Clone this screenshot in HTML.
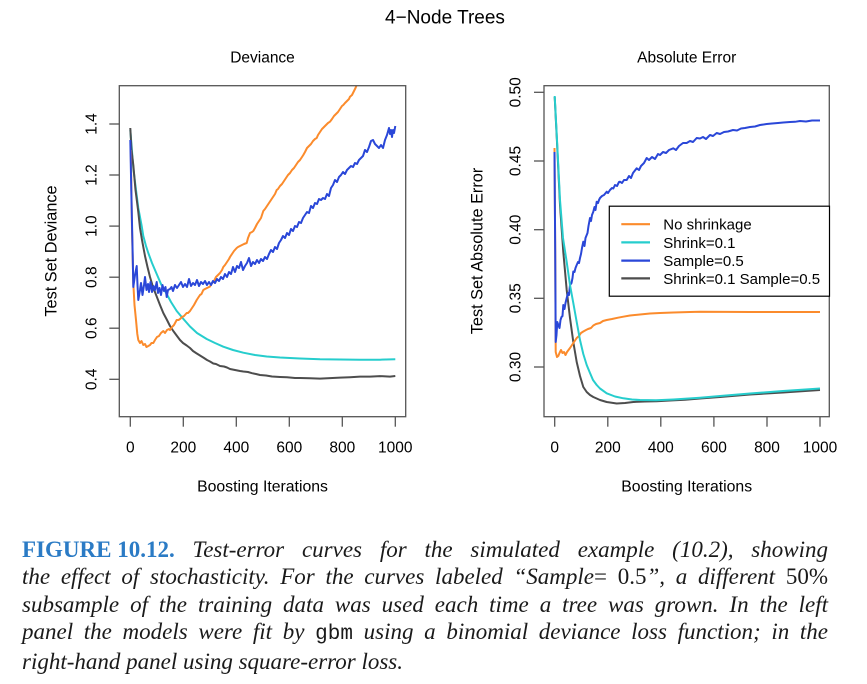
<!DOCTYPE html>
<html>
<head>
<meta charset="utf-8">
<style>
html,body{margin:0;padding:0;background:#fff;}
body{width:867px;height:684px;position:relative;overflow:hidden;}
svg{position:absolute;left:0;top:0;}
.cap{position:absolute;left:22px;top:536px;width:806px;font-family:"Liberation Serif",serif;font-style:italic;font-size:23px;line-height:27.3px;color:#1a1a1a;}
.cap div{text-align:justify;text-align-last:justify;white-space:normal;}
.cap div.last{text-align:left;text-align-last:left;}
.fig{font-style:normal;font-weight:bold;color:#2b7bc5;display:inline-block;}
.up{font-style:normal;}
.mono{font-family:"Liberation Mono",monospace;font-style:normal;font-size:21px;}
</style>
</head>
<body>
<svg width="867" height="684" viewBox="0 0 867 684" xmlns="http://www.w3.org/2000/svg" font-family="Liberation Sans, Arial, sans-serif">
<defs>
<clipPath id="cl"><rect x="119.3" y="85.7" width="286.4" height="331"/></clipPath>
<clipPath id="cr"><rect x="544" y="85.7" width="285.3" height="331"/></clipPath>
</defs>
<text x="445" y="23.5" font-size="19" text-anchor="middle" fill="#000">4−Node Trees</text>

<!-- LEFT PANEL -->
<text x="262.5" y="62.3" font-size="15.5" text-anchor="middle">Deviance</text>
<g clip-path="url(#cl)" fill="none" stroke-width="2" stroke-linejoin="round">
<polyline stroke="#26cdcd" points="130.3,130 131.5,145 133.3,168 136,190 138.3,208 141.7,226 143.3,236 146,246 148.3,253 152,263 156.7,274 161,284 166.7,294 171,302 176.7,311 183,318.5 190,326.5 197,333 206.7,339 215,343 223.3,346.7 233,350 243.3,352.7 255,355 266.7,356.5 280,357.5 300,358.5 320,359.3 340,359.5 360,359.8 380,359.7 395.3,359.3"/>
<polyline stroke="#4d4d4d" points="130.3,128 131.5,150 133.3,165 135.5,190 138.3,212 140,228 142,240 145,256 147.5,267 150,277 153,287 156.7,296.5 160,305 163.3,313 167,320 170,326 173.3,331 177,336 180,340 183,343 186.7,345.5 190,348 193,351 196,353 200,355.5 204,358 207,360 210,361.5 213.3,363.5 216,364 220,366 224,366.5 227,367.5 230,369 235,370 240,371 243.3,371.5 248,372 252,373.2 256,374 260,375 266,375.5 272,376.5 280,377 287,377.3 295,378 300,378 310,378.3 320,378.6 330,378.1 340,377.6 350,377.2 360,376.6 370,376.6 380,376.1 390,376.6 395.3,376"/>
<polyline stroke="#fb8b2c" points="130.8,150 132,230 133.3,283 134.5,305 136,320 137.3,334 138.3,340 140,343 141.5,341 143.3,345 145,344 146.5,347 148.3,346 150,345 151.5,343 153.3,343 155,340 157,337 159,336 161,333 163.3,331 165,333 167,330 169,329 170,330 172,327 174,325 176.7,320 178.5,320 180,319 182,317 184,316 186.7,313 188,313 190,311 192,308 194,305 196.7,300 198,298 200,295 201.5,294 203.3,290 205,289 207,288 210,286.5 212,283 214,281 216,277 218,275 220,273 222,270 223.3,267 225,265 227,262 229,259 230,257 232,254 234,251 236.7,248 238,247 240,246 242,245 244,244 246.7,243 248,238 250,233 252,232 253.3,231 255,228 257,224 259,221 261,218 263.3,211 265,209 267,206 269,203 271,200 273,197 275,194 276.7,190 278,189 280,186 282,184 284,181 286,178 288,175 290,173 292,170 294,168 296,165 298,162 300,160 302,157 303.3,155 305,152 307,148 309,146 311,144 313,141 315,139 316.7,138 318,135 320,132 322,129 324,127 326,125 328,123 330,121.7 332,119 334,116 336,114 338,112 340,109 342,106 343.3,105 345,103 347,101 349,99 350,96.7 352,95 354,91 355.5,88 356.7,85 358,80"/>
<polyline stroke="#2a47d8" points="130.3,140 131.5,200 132.8,260 133.3,287 135,275 136.7,266 137.5,285 138.3,300 140,290 141,283 142.5,295 144,285 145,277 146.5,290 148,284 149,292 150.5,282 152,292 153.5,286 155,290 156.7,282 158,293 159.5,288 161,295 162.5,285 164,291 165.5,287 166.7,297 168,290 170,289 171.5,287 173,291 175,285 177,288 179,285 181,282 183,287 185,284 187,287 189,279 191,286 193,283 195,285 197,280 199,286 201,282 203,284 205,281 207,285 209,282 211,285 213,281 215,283 217,279 219,281 221,277 223,279 225,274 227,277 229,272 231,274 233,267 235,272 237,266 239,268 241,262 243,270 245,266 247,263 249,258 251,266 253,262 255,264 257,260 259,263 261,259 263,261 265,257 267,259 269,254 271,250 273,252 275,247 277,249 279,243 281,240 283,236 285,238 287,233 289,235 291,229 293,231 295,226 297,227 299,222 301,223 303,218 305,215 307,212 309,213 311,206 313,208 315,203 317,204 319,199 321,200 323,198 325,199 327,194 329,196 331,188 333,185 335,180 337,182 339,177 341,175 343,172 345,174 347,170 349,168 351,166 353,167 355,163 357,164 359,160 361,158 363,156 365,150 367,152 369,147 371,141 373,140 375,144 377,146 379,148 381,145 383,148 385,140 387,135 389,128 390,134 391,130 392,137 393,130 394,133 395.3,126"/>
</g>
<rect x="119.3" y="85.7" width="286.4" height="331" fill="none" stroke="#555" stroke-width="1.3"/>
<g stroke="#555" stroke-width="1.3">
<line x1="130.3" y1="416.7" x2="130.3" y2="426.7"/>
<line x1="183.3" y1="416.7" x2="183.3" y2="426.7"/>
<line x1="236.3" y1="416.7" x2="236.3" y2="426.7"/>
<line x1="289.3" y1="416.7" x2="289.3" y2="426.7"/>
<line x1="342.3" y1="416.7" x2="342.3" y2="426.7"/>
<line x1="395.3" y1="416.7" x2="395.3" y2="426.7"/>
<line x1="109.3" y1="379.3" x2="119.3" y2="379.3"/>
<line x1="109.3" y1="328.2" x2="119.3" y2="328.2"/>
<line x1="109.3" y1="277.2" x2="119.3" y2="277.2"/>
<line x1="109.3" y1="226.1" x2="119.3" y2="226.1"/>
<line x1="109.3" y1="175" x2="119.3" y2="175"/>
<line x1="109.3" y1="124" x2="119.3" y2="124"/>
</g>
<g font-size="15.5" text-anchor="middle">
<text x="130.3" y="452.3">0</text>
<text x="183.3" y="452.3">200</text>
<text x="236.3" y="452.3">400</text>
<text x="289.3" y="452.3">600</text>
<text x="342.3" y="452.3">800</text>
<text x="395.3" y="452.3">1000</text>
<text transform="translate(96.7,379.3) rotate(-90)">0.4</text>
<text transform="translate(96.7,328.2) rotate(-90)">0.6</text>
<text transform="translate(96.7,277.2) rotate(-90)">0.8</text>
<text transform="translate(96.7,226.1) rotate(-90)">1.0</text>
<text transform="translate(96.7,175) rotate(-90)">1.2</text>
<text transform="translate(96.7,124) rotate(-90)">1.4</text>
</g>
<text x="262.5" y="491.5" font-size="15.8" text-anchor="middle">Boosting Iterations</text>
<text transform="translate(56.7,251) rotate(-90)" font-size="16.3" text-anchor="middle">Test Set Deviance</text>

<!-- RIGHT PANEL -->
<text x="686.7" y="62.3" font-size="15.5" text-anchor="middle">Absolute Error</text>
<g clip-path="url(#cr)" fill="none" stroke-width="2" stroke-linejoin="round">
<polyline stroke="#4d4d4d" points="554.7,97 557,142 560,205 563.3,252 566.7,290 570,318 573.3,342 576.7,362 580,376 583.3,387 586.7,392 590,395 593.3,397 600,400 606.7,402 616.7,403.5 625,403 633.3,402 645,401.5 656.7,401.2 670,400.5 685,399.8 700,398.5 720,397 750,394.5 783,392.5 820,390"/>
<polyline stroke="#fb8b2c" points="554.5,148 555.2,250 555.7,352 557,357 558.3,356 559.5,353 561,350 562.5,353 564,352 565.5,355 567,352 568.5,350 570,348 572,345 574,342 576.7,338 579,336 581,333 583.3,331.5 586,330 588,329 591,328 593.3,325.5 596,324 600,323 603,321 606.7,320 612,319 618,317.7 623.3,316.7 630,315.5 640,314.5 650,313.5 660,313 673.3,312.5 690,312 700,311.8 750,312 820,312"/>
<polyline stroke="#2a47d8" points="554.5,152 555.2,250 555.7,342 556.5,335 557.3,322 558.3,325 559.5,328 560.5,320 561.5,317 562.5,316 563.3,305 564.5,309 565.5,303 566.7,298 568,293 569,295 570,285 571.5,283 572.5,278 573.3,271.5 574.5,272 575.5,268 576.7,265 578,262 579,263 580,258 581,254 582,248 583.3,241.7 584.5,246 585.5,238 586.7,235 587.5,233 588.5,226 590,218 591,221 592,215 593.3,211.7 594.5,207 595.5,210 596.7,201.7 598,203 599,200 600,198 602,196 604,195 606.7,191.7 608,193 610,190 612,188 613.3,188.5 615,185 617,186 619,182 620,181.7 622,183 624,180 626.7,180 629,176 631,178 633,173 636.7,168.3 639,170 641,166 644,163 646.7,158 649,160 652,157 655,159 658,154 660,155 663,152 666,153 669,150 673.3,148.3 676,150 679,146 683,143 686.7,143 690,141 693,142 696.7,138 700,138.5 703,137 706,139 710,135 713,136 716.7,133 720,134 724,132 728,131.5 733,130 737,130.5 741,128.5 745,128 750,127 755,126.5 760,125 766.7,124 772,123.5 778,123 783.3,122.5 790,122 795,121.8 800,121 806,121.5 812,120.5 820,120.5"/>
<polyline stroke="#26cdcd" points="554.7,96 557,140 560,200 563,238 566.7,262 570,285 573.3,303 576.7,322 580,340 583.3,354 586.7,365 590,373 593,380 596.7,385 600,388.5 606.7,393.3 615,396.5 623.3,398.3 632,399.5 640,400 656,400.3 673.3,399.5 700,397.7 720,396 750,393.5 783,391 820,388.5"/>
</g>
<rect x="544" y="85.7" width="285.3" height="331" fill="none" stroke="#555" stroke-width="1.3"/>
<g stroke="#555" stroke-width="1.3">
<line x1="554.7" y1="416.7" x2="554.7" y2="426.7"/>
<line x1="607.8" y1="416.7" x2="607.8" y2="426.7"/>
<line x1="660.8" y1="416.7" x2="660.8" y2="426.7"/>
<line x1="713.9" y1="416.7" x2="713.9" y2="426.7"/>
<line x1="767" y1="416.7" x2="767" y2="426.7"/>
<line x1="820" y1="416.7" x2="820" y2="426.7"/>
<line x1="534" y1="367" x2="544" y2="367"/>
<line x1="534" y1="298.3" x2="544" y2="298.3"/>
<line x1="534" y1="229.7" x2="544" y2="229.7"/>
<line x1="534" y1="161" x2="544" y2="161"/>
<line x1="534" y1="92.3" x2="544" y2="92.3"/>
</g>
<g font-size="15.5" text-anchor="middle">
<text x="554.7" y="452.3">0</text>
<text x="607.8" y="452.3">200</text>
<text x="660.8" y="452.3">400</text>
<text x="713.9" y="452.3">600</text>
<text x="767" y="452.3">800</text>
<text x="820" y="452.3">1000</text>
<text transform="translate(520.7,367) rotate(-90)">0.30</text>
<text transform="translate(520.7,298.3) rotate(-90)">0.35</text>
<text transform="translate(520.7,229.7) rotate(-90)">0.40</text>
<text transform="translate(520.7,161) rotate(-90)">0.45</text>
<text transform="translate(520.7,92.3) rotate(-90)">0.50</text>
</g>
<text x="686.7" y="491.5" font-size="15.8" text-anchor="middle">Boosting Iterations</text>
<text transform="translate(482.3,251) rotate(-90)" font-size="16.3" text-anchor="middle">Test Set Absolute Error</text>

<!-- legend -->
<rect x="609.3" y="206.2" width="220.2" height="90" fill="#fff" stroke="#000" stroke-width="1.2"/>
<g stroke-width="2.2">
<line x1="621.3" y1="224.2" x2="650" y2="224.2" stroke="#fb8b2c"/>
<line x1="621.3" y1="242.4" x2="650" y2="242.4" stroke="#26cdcd"/>
<line x1="621.3" y1="260.6" x2="650" y2="260.6" stroke="#2a47d8"/>
<line x1="621.3" y1="278.4" x2="650" y2="278.4" stroke="#4d4d4d"/>
</g>
<g font-size="15">
<text x="663.3" y="229.6">No shrinkage</text>
<text x="663.3" y="247.8">Shrink=0.1</text>
<text x="663.3" y="266">Sample=0.5</text>
<text x="663.3" y="283.8">Shrink=0.1 Sample=0.5</text>
</g>
</svg>

<div class="cap">
<div><span class="fig">FIGURE 10.12.</span> Test-error curves for the simulated example (10.2), showing</div>
<div>the effect of stochasticity. For the curves labeled “Sample<span class="up">= 0.5</span>”, a different <span class="up">50%</span></div>
<div>subsample of the training data was used each time a tree was grown. In the left</div>
<div>panel the models were fit by <span class="mono">gbm</span> using a binomial deviance loss function; in the</div>
<div class="last">right-hand panel using square-error loss.</div>
</div>
</body>
</html>
